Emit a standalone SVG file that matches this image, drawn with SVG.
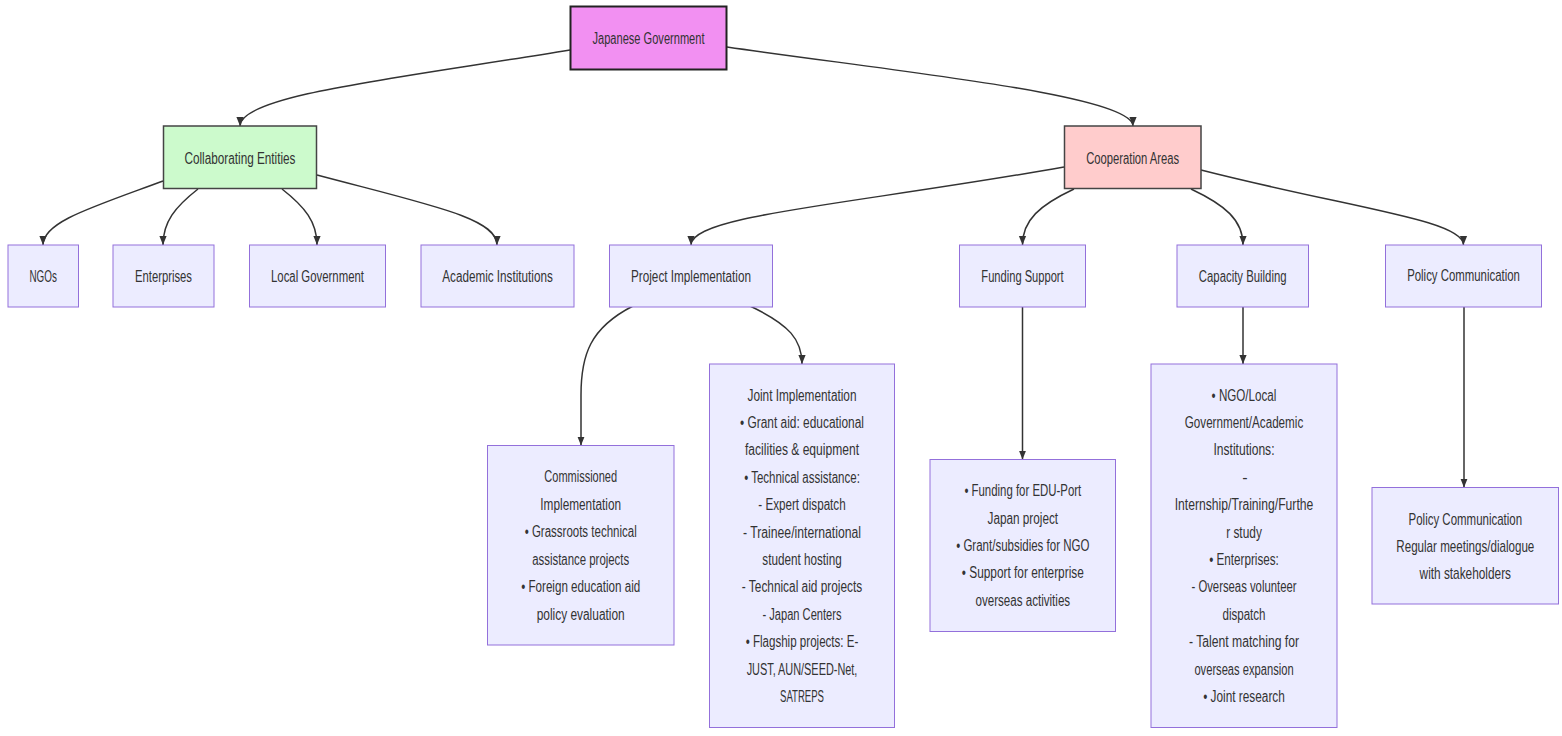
<svg xmlns="http://www.w3.org/2000/svg" width="1562" height="736" viewBox="0 0 1562 736">
<defs>
<style>
.n{fill:#ECECFF;stroke:#9370DB;stroke-width:1}
.t{font-family:"Liberation Sans",Arial,sans-serif;font-size:16px;fill:#333;text-anchor:middle}
.e{fill:none;stroke:#333;stroke-width:1.5}
</style>
<marker id="arr" viewBox="0 0 10 10" refX="10" refY="5" markerWidth="9" markerHeight="9" markerUnits="userSpaceOnUse" orient="auto">
<path d="M0,1 L10,5 L0,9 z" fill="#333"/>
</marker>
</defs>
<rect width="1562" height="736" fill="#fff"/>
<g id="connectors">
<path class="e" marker-end="url(#arr)" d="M570,50 C400,78 240,95 240,126"/>
<path class="e" marker-end="url(#arr)" d="M727,47 C900,72 1133,95 1133,126"/>
<path class="e" marker-end="url(#arr)" d="M163,181 C90,208 43,222 43,245"/>
<path class="e" marker-end="url(#arr)" d="M198,189 C175,207 163,222 163,245"/>
<path class="e" marker-end="url(#arr)" d="M282,189 C305,207 317,222 317,245"/>
<path class="e" marker-end="url(#arr)" d="M317,175 C430,205 497,218 497,245"/>
<path class="e" marker-end="url(#arr)" d="M1064,167 C850,205 691,215 691,245"/>
<path class="e" marker-end="url(#arr)" d="M1074,189 C1040,205 1022.5,220 1022.5,245"/>
<path class="e" marker-end="url(#arr)" d="M1191,189 C1225,205 1243,220 1243,245"/>
<path class="e" marker-end="url(#arr)" d="M1201,170 C1350,208 1463.5,220 1463.5,245"/>
<path class="e" marker-end="url(#arr)" d="M633,306 C590,328 581,355 581,395 L581,445.5"/>
<path class="e" marker-end="url(#arr)" d="M750,306 C790,325 802,340 802,364"/>
<path class="e" marker-end="url(#arr)" d="M1022.5,307 L1022.5,459.5"/>
<path class="e" marker-end="url(#arr)" d="M1243,307 L1243,364"/>
<path class="e" marker-end="url(#arr)" d="M1464,307 L1464,487.5"/>
</g>
<g id="japanese-government">
<rect x="570.5" y="6.5" width="156" height="63" fill="#F290F2" stroke="#222" stroke-width="2"/>
<text class="t" x="648.5" y="44" textLength="112" lengthAdjust="spacingAndGlyphs">Japanese Government</text>
</g>
<g id="collaborating-entities">
<rect x="163.5" y="126" width="153" height="62.5" fill="#CCFACC" stroke="#444" stroke-width="1.5"/>
<text class="t" x="240" y="163.5" textLength="111" lengthAdjust="spacingAndGlyphs">Collaborating Entities</text>
</g>
<g id="cooperation-areas">
<rect x="1064.5" y="126" width="136.5" height="62.5" fill="#FFCCCC" stroke="#444" stroke-width="1.5"/>
<text class="t" x="1132.7" y="163.5" textLength="93" lengthAdjust="spacingAndGlyphs">Cooperation Areas</text>
</g>
<g id="ngos">
<rect class="n" x="8" y="245" width="70.5" height="62"/>
<text class="t" x="43.2" y="281.5" textLength="27.5" lengthAdjust="spacingAndGlyphs">NGOs</text>
</g>
<g id="enterprises">
<rect class="n" x="113" y="245" width="101" height="62"/>
<text class="t" x="163.5" y="281.5" textLength="57" lengthAdjust="spacingAndGlyphs">Enterprises</text>
</g>
<g id="local-government">
<rect class="n" x="249.5" y="245" width="136" height="62"/>
<text class="t" x="317.5" y="281.5" textLength="93" lengthAdjust="spacingAndGlyphs">Local Government</text>
</g>
<g id="academic-institutions">
<rect class="n" x="421" y="245" width="153" height="62"/>
<text class="t" x="497.5" y="281.5" textLength="110.5" lengthAdjust="spacingAndGlyphs">Academic Institutions</text>
</g>
<g id="project-implementation">
<rect class="n" x="609.5" y="245" width="163" height="62"/>
<text class="t" x="691" y="281.5" textLength="120" lengthAdjust="spacingAndGlyphs">Project Implementation</text>
</g>
<g id="funding-support">
<rect class="n" x="959.5" y="245" width="126" height="62"/>
<text class="t" x="1022.5" y="281.5" textLength="82.3" lengthAdjust="spacingAndGlyphs">Funding Support</text>
</g>
<g id="capacity-building">
<rect class="n" x="1177" y="245" width="131.5" height="62"/>
<text class="t" x="1242.7" y="281.5" textLength="87.7" lengthAdjust="spacingAndGlyphs">Capacity Building</text>
</g>
<g id="policy-communication">
<rect class="n" x="1385.5" y="245" width="156" height="62"/>
<g transform="translate(1463.5,0) scale(0.8,1)">
<text class="t" x="0" y="281.5" textLength="140.9" lengthAdjust="spacingAndGlyphs">Policy Communication</text>
</g>
</g>
<g id="commissioned-implementation">
<rect class="n" x="487.5" y="445.5" width="186.5" height="199.5"/>
<text class="t" x="580.7" y="482" textLength="72.7" lengthAdjust="spacingAndGlyphs">Commissioned</text>
<text class="t" x="580.7" y="509.6" textLength="80.7" lengthAdjust="spacingAndGlyphs">Implementation</text>
<text class="t" x="580.7" y="537.2" textLength="112" lengthAdjust="spacingAndGlyphs">• Grassroots technical</text>
<text class="t" x="580.7" y="564.8" textLength="97" lengthAdjust="spacingAndGlyphs">assistance projects</text>
<text class="t" x="580.7" y="592.4" textLength="119" lengthAdjust="spacingAndGlyphs">• Foreign education aid</text>
<text class="t" x="580.7" y="620" textLength="88" lengthAdjust="spacingAndGlyphs">policy evaluation</text>
</g>
<g id="joint-implementation">
<rect class="n" x="709.5" y="364" width="185" height="363.5"/>
<text class="t" x="802" y="400.5" textLength="109" lengthAdjust="spacingAndGlyphs">Joint Implementation</text>
<text class="t" x="802" y="427.9" textLength="124" lengthAdjust="spacingAndGlyphs">• Grant aid: educational</text>
<text class="t" x="802" y="455.3" textLength="114" lengthAdjust="spacingAndGlyphs">facilities &amp; equipment</text>
<text class="t" x="802" y="482.8" textLength="115.7" lengthAdjust="spacingAndGlyphs">• Technical assistance:</text>
<text class="t" x="802" y="510.2" textLength="87.3" lengthAdjust="spacingAndGlyphs">- Expert dispatch</text>
<text class="t" x="802" y="537.6" textLength="118" lengthAdjust="spacingAndGlyphs">- Trainee/international</text>
<text class="t" x="802" y="565" textLength="79.3" lengthAdjust="spacingAndGlyphs">student hosting</text>
<text class="t" x="802" y="592.4" textLength="120.3" lengthAdjust="spacingAndGlyphs">- Technical aid projects</text>
<text class="t" x="802" y="619.9" textLength="79" lengthAdjust="spacingAndGlyphs">- Japan Centers</text>
<text class="t" x="802" y="647.3" textLength="112.7" lengthAdjust="spacingAndGlyphs">• Flagship projects: E-</text>
<text class="t" x="802" y="674.7" textLength="110.7" lengthAdjust="spacingAndGlyphs">JUST, AUN/SEED-Net,</text>
<text class="t" x="802" y="702.1" textLength="44" lengthAdjust="spacingAndGlyphs">SATREPS</text>
</g>
<g id="funding-details">
<rect class="n" x="930" y="459.5" width="185.5" height="172"/>
<text class="t" x="1022.8" y="496.2" textLength="116.8" lengthAdjust="spacingAndGlyphs">• Funding for EDU-Port</text>
<text class="t" x="1022.8" y="523.6" textLength="70.5" lengthAdjust="spacingAndGlyphs">Japan project</text>
<text class="t" x="1022.8" y="551" textLength="133.2" lengthAdjust="spacingAndGlyphs">• Grant/subsidies for NGO</text>
<text class="t" x="1022.8" y="578.4" textLength="122" lengthAdjust="spacingAndGlyphs">• Support for enterprise</text>
<text class="t" x="1022.8" y="605.8" textLength="94.7" lengthAdjust="spacingAndGlyphs">overseas activities</text>
</g>
<g id="capacity-details">
<rect class="n" x="1151" y="364" width="186" height="363.5"/>
<text class="t" x="1244" y="400.5" textLength="64.8" lengthAdjust="spacingAndGlyphs">• NGO/Local</text>
<text class="t" x="1244" y="427.9" textLength="118.4" lengthAdjust="spacingAndGlyphs">Government/Academic</text>
<text class="t" x="1244" y="455.3" textLength="61" lengthAdjust="spacingAndGlyphs">Institutions:</text>
<text class="t" x="1245" y="482.8">-</text>
<text class="t" x="1244" y="510.2" textLength="138.5" lengthAdjust="spacingAndGlyphs">Internship/Training/Furthe</text>
<text class="t" x="1244" y="537.6" textLength="35.7" lengthAdjust="spacingAndGlyphs">r study</text>
<text class="t" x="1244" y="565" textLength="69.7" lengthAdjust="spacingAndGlyphs">• Enterprises:</text>
<text class="t" x="1244" y="592.4" textLength="105" lengthAdjust="spacingAndGlyphs">- Overseas volunteer</text>
<text class="t" x="1244" y="619.9" textLength="43" lengthAdjust="spacingAndGlyphs">dispatch</text>
<text class="t" x="1244" y="647.3" textLength="110" lengthAdjust="spacingAndGlyphs">- Talent matching for</text>
<text class="t" x="1244" y="674.7" textLength="99.2" lengthAdjust="spacingAndGlyphs">overseas expansion</text>
<text class="t" x="1244" y="702.1" textLength="81.6" lengthAdjust="spacingAndGlyphs">• Joint research</text>
</g>
<g id="policy-details">
<rect class="n" x="1372" y="487.5" width="186.5" height="116.5"/>
<g transform="translate(1465.3,0) scale(0.8,1)">
<text class="t" x="0" y="524.8" textLength="141.9" lengthAdjust="spacingAndGlyphs">Policy Communication</text>
<text class="t" x="0" y="551.7" textLength="172.5" lengthAdjust="spacingAndGlyphs">Regular meetings/dialogue</text>
<text class="t" x="0" y="579" textLength="114.3" lengthAdjust="spacingAndGlyphs">with stakeholders</text>
</g>
</g>
</svg>
